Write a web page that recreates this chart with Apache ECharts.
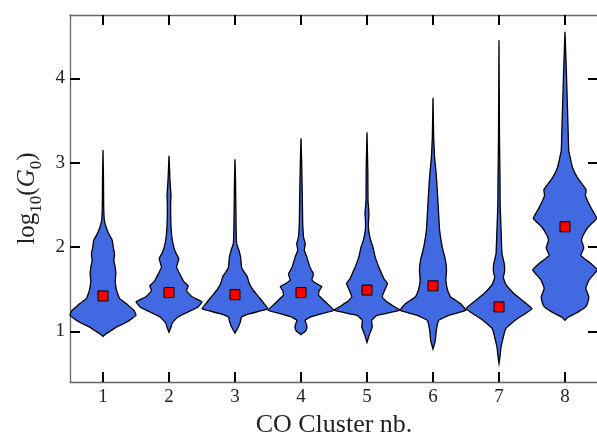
<!DOCTYPE html>
<html>
<head>
<meta charset="utf-8">
<script src="https://cdn.jsdelivr.net/npm/echarts@6/dist/echarts.min.js"></script>
<style>html,body{margin:0;padding:0;background:#fff}#c{width:597px;height:435px}</style>
</head>
<body>
<div id="c"></div>
<script>
const categories = ['1', '2', '3', '4', '5', '6', '7', '8'];
const yTicks = [1, 2, 3, 4];
const means = [1.42, 1.46, 1.435, 1.46, 1.49, 1.54, 1.29, 2.24];

const c1Y = [0.94, 0.97, 1.01, 1.05, 1.09, 1.13, 1.19, 1.25, 1.29, 1.33, 1.39, 1.49, 1.60, 1.68, 1.76, 1.84, 1.92, 2.0, 2.08, 2.16, 2.24, 2.32, 2.5, 2.8, 3.15];
const c1W = [0, 0.09, 0.25, 0.4, 0.62, 0.8, 1.0, 0.94, 0.82, 0.7, 0.5, 0.41, 0.37, 0.39, 0.37, 0.33, 0.35, 0.31, 0.28, 0.17, 0.09, 0.04, 0.02, 0.015, 0];
const c2Y = [0.99, 1.05, 1.10, 1.17, 1.23, 1.29, 1.35, 1.38, 1.41, 1.48, 1.54, 1.59, 1.64, 1.70, 1.76, 1.81, 1.86, 1.92, 1.99, 2.11, 2.25, 2.40, 2.52, 2.61, 2.70, 2.79, 3.08];
const c2W = [0, 0.06, 0.1, 0.27, 0.58, 0.88, 1.0, 0.85, 0.7, 0.53, 0.58, 0.45, 0.38, 0.3, 0.23, 0.26, 0.3, 0.22, 0.15, 0.09, 0.06, 0.05, 0.05, 0.06, 0.045, 0.03, 0];
const c3Y = [0.98, 1.05, 1.11, 1.17, 1.21, 1.24, 1.27, 1.33, 1.39, 1.49, 1.57, 1.65, 1.72, 1.76, 1.88, 1.96, 2.04, 2.2, 2.5, 2.8, 3.04];
const c3W = [0, 0.1, 0.16, 0.2, 0.45, 0.75, 1.0, 0.88, 0.76, 0.55, 0.43, 0.37, 0.25, 0.2, 0.17, 0.12, 0.05, 0.035, 0.025, 0.015, 0];
const c4Y = [0.96, 1.01, 1.05, 1.09, 1.13, 1.17, 1.21, 1.25, 1.33, 1.43, 1.48, 1.53, 1.57, 1.61, 1.68, 1.76, 1.88, 1.96, 2.04, 2.11, 2.3, 2.6, 3.0, 3.29];
const c4W = [0, 0.15, 0.18, 0.16, 0.12, 0.28, 0.63, 1.0, 0.79, 0.53, 0.55, 0.63, 0.45, 0.33, 0.38, 0.27, 0.18, 0.1, 0.13, 0.08, 0.05, 0.04, 0.02, 0];
const c5Y = [0.87, 0.97, 1.05, 1.13, 1.19, 1.25, 1.30, 1.35, 1.41, 1.5, 1.57, 1.62, 1.68, 1.76, 1.88, 2.0, 2.08, 2.2, 2.3, 2.4, 2.55, 2.9, 3.36];
const c5W = [0, 0.08, 0.16, 0.14, 0.3, 1.0, 0.8, 0.6, 0.46, 0.55, 0.62, 0.52, 0.45, 0.36, 0.25, 0.18, 0.11, 0.05, 0.045, 0.06, 0.03, 0.025, 0];
const c6Y = [0.79, 0.89, 1.01, 1.13, 1.19, 1.25, 1.33, 1.41, 1.49, 1.61, 1.72, 1.84, 2.0, 2.2, 2.4, 2.6, 2.85, 3.05, 3.3, 3.77];
const c6W = [0, 0.07, 0.1, 0.17, 0.48, 1.0, 0.83, 0.53, 0.44, 0.39, 0.41, 0.38, 0.28, 0.2, 0.17, 0.14, 0.1, 0.05, 0.02, 0];
const c7Y = [0.62, 0.70, 0.81, 0.93, 1.03, 1.13, 1.21, 1.27, 1.37, 1.45, 1.56, 1.64, 1.71, 1.8, 1.92, 2.12, 2.5, 2.8, 3.3, 4.45];
const c7W = [0, 0.03, 0.06, 0.13, 0.2, 0.48, 0.79, 1.0, 0.7, 0.45, 0.2, 0.13, 0.17, 0.16, 0.09, 0.07, 0.035, 0.03, 0.015, 0];
const c8Y = [1.13, 1.17, 1.22, 1.29, 1.33, 1.41, 1.51, 1.61, 1.73, 1.80, 1.90, 1.99, 2.08, 2.14, 2.24, 2.34, 2.47, 2.61, 2.68, 2.82, 2.94, 3.14, 3.31, 3.71, 4.1, 4.55];
const c8W = [0, 0.1, 0.35, 0.62, 0.68, 0.72, 0.63, 0.73, 0.98, 0.8, 0.48, 0.57, 0.5, 0.55, 0.71, 0.96, 0.78, 0.62, 0.64, 0.38, 0.23, 0.115, 0.1, 0.07, 0.04, 0];

const profiles = [[c1Y, c1W], [c2Y, c2W], [c3Y, c3W], [c4Y, c4W], [c5Y, c5W], [c6Y, c6W], [c7Y, c7W], [c8Y, c8W]];

const FONT = '"Liberation Serif", serif';
const TXT = '#222';
const chart = echarts.init(document.getElementById('c'), null, {renderer: 'canvas'});

function renderViolin(params, api) {
  const idx = api.value(0);
  const prof = profiles[idx];
  const ys = prof[0], ws = prof[1];
  const band = api.size([1, 0])[0];
  const half = band * 0.5;
  const cx = api.coord([idx, 0])[0];
  const right = [], left = [];
  for (let i = 0; i < ys.length; i++) {
    const py = api.coord([idx, ys[i]])[1];
    right.push([cx + ws[i] * half, py]);
    left.unshift([cx - ws[i] * half, py]);
  }
  return {
    type: 'polygon',
    shape: {points: right.concat(left), smooth: 0.1},
    style: {fill: '#4169E1', stroke: '#000', lineWidth: 1.3}
  };
}

const tickStyle = {show: true, inside: true, length: 10, lineStyle: {color: '#000', width: 2}};
const lineStyle = {show: true, lineStyle: {color: '#666', width: 1.3}};

chart.setOption({
  animation: false,
  backgroundColor: '#fff',
  grid: {left: 70, top: 15, width: 528, height: 367, containLabel: false, outerBoundsMode: 'none'},
  xAxis: [{
    type: 'category', data: categories, position: 'bottom', boundaryGap: true,
    axisLine: lineStyle,
    axisTick: Object.assign({alignWithLabel: true}, tickStyle),
    axisLabel: {color: TXT, fontFamily: FONT, fontSize: 19, margin: 6},
    splitLine: {show: false},
    name: 'CO Cluster nb.', nameLocation: 'middle', nameGap: 26,
    nameTextStyle: {color: TXT, fontFamily: FONT, fontSize: 26}
  }, {
    type: 'category', data: categories, position: 'top', boundaryGap: true,
    axisLine: lineStyle,
    axisTick: Object.assign({alignWithLabel: true}, tickStyle),
    axisLabel: {show: false}, splitLine: {show: false}
  }],
  yAxis: [{
    type: 'value', min: 0.4, max: 4.75, position: 'left',
    axisLine: lineStyle,
    axisTick: Object.assign({customValues: yTicks}, tickStyle),
    axisLabel: {customValues: yTicks, color: TXT, fontFamily: FONT, fontSize: 19, margin: 5},
    splitLine: {show: false},
    name: '{a|log}{s|10}{a|(}{i|G}{s|0}{a|)}', nameLocation: 'middle', nameGap: 20, nameRotate: 90,
    nameTextStyle: {
      color: TXT, fontFamily: FONT, fontSize: 25,
      rich: {
        a: {fontFamily: FONT, fontSize: 25, color: TXT, lineHeight: 34},
        i: {fontFamily: FONT, fontSize: 25, color: TXT, fontStyle: 'italic', lineHeight: 34},
        s: {fontFamily: FONT, fontSize: 17, color: TXT, verticalAlign: 'bottom', lineHeight: 17}
      }
    }
  }, {
    type: 'value', min: 0.4, max: 4.75, position: 'right',
    axisLine: lineStyle,
    axisTick: Object.assign({customValues: yTicks}, tickStyle),
    axisLabel: {show: false}, splitLine: {show: false}
  }],
  series: [{
    type: 'custom',
    renderItem: renderViolin,
    xAxisIndex: 0, yAxisIndex: 0,
    data: categories.map((c, i) => [i]),
    encode: {x: 0},
    clip: false,
    z: 2
  }, {
    type: 'scatter',
    xAxisIndex: 0, yAxisIndex: 0,
    data: means.map((m, i) => [i, m]),
    symbol: 'rect', symbolSize: 10,
    itemStyle: {color: '#ff0000', borderColor: '#000', borderWidth: 1, opacity: 1},
    z: 3
  }]
});
</script>
</body>
</html>
